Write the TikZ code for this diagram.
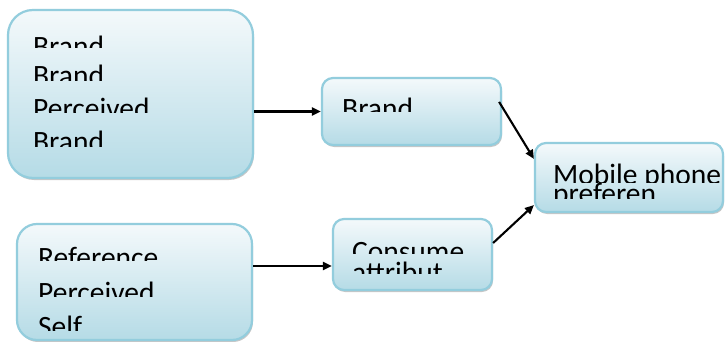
\documentclass[tikz,border=0pt]{standalone}
\usepackage{fontspec}
\setmainfont{Carlito}
\usetikzlibrary{arrows.meta,shadows}

\definecolor{boxedge}{HTML}{93CDDD}
\definecolor{boxtop}{HTML}{F4F9FB}
\definecolor{boxbottom}{HTML}{B5DBE6}

\tikzset{
  panel/.style={draw=boxedge, line width=2.2pt, top color=boxtop, bottom color=boxbottom,
    drop shadow={shadow xshift=1pt, shadow yshift=-2pt, fill=black, opacity=0.22},
    inner sep=0pt},
  label/.style={anchor=base west, inner sep=0pt, font=\fontsize{29.5}{31}\selectfont},
  link/.style={line width=2.1pt, -{Triangle[length=9pt,width=8pt]}},
}

% one line of text, cut off along a horizontal edge
% #1 name, #2 x, #3 baseline, #4 lower edge of the visible part, #5 text
\newcommand\cutline[5]{%
  \begin{scope}
    \clip (#2-4,#3-32) rectangle (#2+260,#4);
    \node[label] (#1) at (#2,#3) {#5};
  \end{scope}}

\begin{document}
\begin{tikzpicture}[x=1pt,y=-1pt]
  \useasboundingbox (0,0) rectangle (725,342);
  \fill[white] (0,0) rectangle (725,342);

  % boxes
  \node[panel, rounded corners=25pt, minimum width=245pt, minimum height=168pt] (drivers) at (130.5,94) {};
  \node[panel, rounded corners=20pt, minimum width=235pt, minimum height=116pt] (selfref) at (134.5,282) {};
  \node[panel, rounded corners=11pt, minimum width=179pt, minimum height=67pt] (brand) at (411.5,111.5) {};
  \node[panel, rounded corners=11pt, minimum width=159pt, minimum height=71pt] (consumer) at (412.5,254.5) {};
  \node[panel, rounded corners=11pt, minimum width=188pt, minimum height=69pt] (pref) at (629,177.5) {};

  % texts
  \cutline{d1}{33}{57}{48}{Brand}
  \cutline{d2}{33}{86}{81}{Brand}
  \cutline{d3}{33}{119}{113}{Perceived}
  \cutline{d4}{33}{151}{146}{Brand}

  \cutline{s1}{38}{267}{260}{Reference}
  \cutline{s2}{38}{302}{296}{Perceived}
  \cutline{s3}{38}{336}{330}{Self}

  \cutline{b1}{342}{118}{112}{Brand}

  \cutline{c1}{352}{261}{253}{Consume}
  \cutline{c2}{352}{282}{273}{attribut}

  \cutline{p1}{553}{184}{182}{Mobile phone}
  \cutline{p2}{553}{203}{198}{preferen}

  % connectors
  \draw[link] (drivers.east |- brand.west) -- (brand.west);
  \draw[link] ([yshift=-11.5pt]selfref.east |- consumer.west) -- ([yshift=-11.5pt]consumer.west);
  \draw[link] ([xshift=-3pt,yshift=-25pt]brand.north east) -- ([yshift=-17pt]pref.north west);
  \draw[link] ([yshift=11.5pt]consumer.east) -- ([yshift=8pt]pref.south west);
\end{tikzpicture}
\end{document}
